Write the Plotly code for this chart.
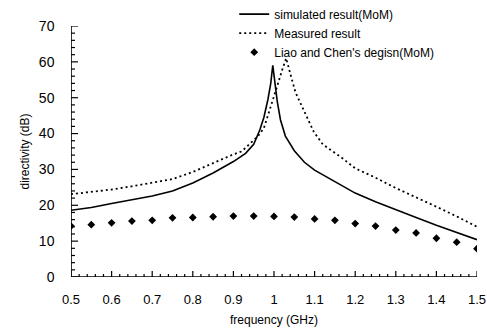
import plotly.graph_objects as go

# Simulated result (MoM)
sim_freq = [0.5, 0.55, 0.6, 0.65, 0.7, 0.75, 0.8, 0.85, 0.9, 0.93, 0.95, 0.965, 0.975,
            0.985, 0.992, 0.997, 1.002, 1.008, 1.016, 1.028, 1.05, 1.075, 1.1, 1.15,
            1.2, 1.25, 1.3, 1.35, 1.4, 1.45, 1.5]
sim_val = [18.6, 19.4, 20.5, 21.6, 22.6, 24.0, 26.2, 29.0, 32.2, 34.5, 37.0, 41.0, 44.5,
           49.5, 54.0, 59.0, 54.0, 49.0, 43.8, 39.3, 35.2, 32.0, 29.8, 26.6,
           23.4, 21.0, 18.9, 16.6, 14.4, 12.5, 10.4]

# Measured result
meas_freq = [0.5, 0.55, 0.6, 0.65, 0.7, 0.75, 0.8, 0.85, 0.9, 0.92, 0.945, 0.96, 0.975,
             0.99, 1.005, 1.02, 1.03, 1.042, 1.053, 1.065, 1.082, 1.098, 1.12, 1.143,
             1.17, 1.2, 1.25, 1.3, 1.35, 1.4, 1.45, 1.5]
meas_val = [23.1, 23.7, 24.4, 25.3, 26.3, 27.3, 29.3, 31.8, 34.2, 35.0, 37.6, 39.2, 41.5,
            46.6, 52.2, 57.7, 61.0, 55.9, 51.5, 48.5, 44.5, 40.5, 37.0, 35.2,
            33.0, 30.3, 27.7, 24.8, 22.3, 19.6, 16.9, 14.0]

# Liao and Chen's design (MoM)
liao_freq = [0.5, 0.55, 0.6, 0.65, 0.7, 0.75, 0.8, 0.85, 0.9, 0.95, 1.0,
             1.05, 1.1, 1.15, 1.2, 1.25, 1.3, 1.35, 1.4, 1.45, 1.5]
liao_val = [14.2, 14.6, 15.1, 15.6, 15.8, 16.5, 16.6, 16.8, 17.0, 17.0, 16.9,
            16.7, 16.2, 15.8, 14.9, 14.2, 13.1, 12.3, 10.8, 9.7, 7.9]

X_RANGE = [0.5, 1.5]
Y_RANGE = [0, 70]
X_MINOR_STEP = 0.02
Y_MINOR_STEP = 2
X_MAJOR_EVERY = 5
Y_MAJOR_EVERY = 5

W, H = 487, 332
M = dict(l=71, r=10, t=26, b=55)
plot_w = W - M["l"] - M["r"]
plot_h = H - M["t"] - M["b"]
x_per_px = (X_RANGE[1] - X_RANGE[0]) / plot_w
y_per_px = (Y_RANGE[1] - Y_RANGE[0]) / plot_h

TFONT = "Liberation Sans, Arial, sans-serif"

fig = go.Figure()

# frame: axis lines + inward ticks, built from the axis ranges and tick steps
ax_x = [X_RANGE[0], X_RANGE[0], None, X_RANGE[0], X_RANGE[1]]
ax_y = [Y_RANGE[1], Y_RANGE[0], None, Y_RANGE[0], Y_RANGE[0]]
fig.add_trace(go.Scatter(x=ax_x, y=ax_y, mode="lines", showlegend=False,
                         hoverinfo="skip", cliponaxis=False,
                         line=dict(color="black", width=1.6)))
tx, ty = [], []
n_x = int(round((X_RANGE[1] - X_RANGE[0]) / X_MINOR_STEP))
for i in range(n_x + 1):
    xv = X_RANGE[0] + i * X_MINOR_STEP
    ln = (6 if i % X_MAJOR_EVERY == 0 else 3) * y_per_px
    tx += [xv, xv, None]
    ty += [Y_RANGE[0], Y_RANGE[0] + ln, None]
n_y = int(round((Y_RANGE[1] - Y_RANGE[0]) / Y_MINOR_STEP))
for i in range(n_y + 1):
    yv = Y_RANGE[0] + i * Y_MINOR_STEP
    ln = (7 if i % Y_MAJOR_EVERY == 0 else 4) * x_per_px
    tx += [X_RANGE[0], X_RANGE[0] + ln, None]
    ty += [yv, yv, None]
fig.add_trace(go.Scatter(x=tx, y=ty, mode="lines", showlegend=False,
                         hoverinfo="skip", cliponaxis=False,
                         line=dict(color="black", width=1.2)))

fig.add_trace(go.Scatter(x=sim_freq, y=sim_val, mode="lines",
                         name="simulated result(MoM)",
                         line=dict(color="black", width=1.6)))
fig.add_trace(go.Scatter(x=meas_freq, y=meas_val, mode="lines",
                         name="Measured result",
                         line=dict(color="black", width=1.8, dash="2px,3px")))
fig.add_trace(go.Scatter(x=liao_freq, y=liao_val, mode="markers",
                         name="Liao and Chen's degisn(MoM)",
                         marker=dict(symbol="diamond", size=6, color="black")))

fig.update_layout(
    template="simple_white",
    width=W, height=H,
    margin=dict(**M, autoexpand=False),
    paper_bgcolor="white", plot_bgcolor="white",
    font=dict(family=TFONT, color="black", size=12),
    showlegend=True,
    legend=dict(x=0.402, y=1.105, xanchor="left", yanchor="top",
                bgcolor="rgba(0,0,0,0)", font=dict(size=12, family=TFONT),
                tracegroupgap=0, itemwidth=30),
    xaxis=dict(range=X_RANGE, tickmode="linear", tick0=0.5, dtick=0.1,
               automargin=False, showline=False, ticks="",
               showgrid=False, zeroline=False,
               tickfont=dict(family=TFONT, size=13),
               ticklabelstandoff=13, ticklabeloverflow="allow",
               title=dict(text="frequency (GHz)", font=dict(size=12, family=TFONT), standoff=9)),
    yaxis=dict(range=Y_RANGE, tickmode="linear", tick0=0, dtick=10,
               automargin=False, showline=False, ticks="",
               showgrid=False, zeroline=False,
               tickfont=dict(family=TFONT, size=14),
               ticksuffix="    ",
               ticklabeloverflow="allow",
               title=dict(text="directivity (dB)", font=dict(size=12, family=TFONT), standoff=6)),
)

fig.write_html("out.html")
